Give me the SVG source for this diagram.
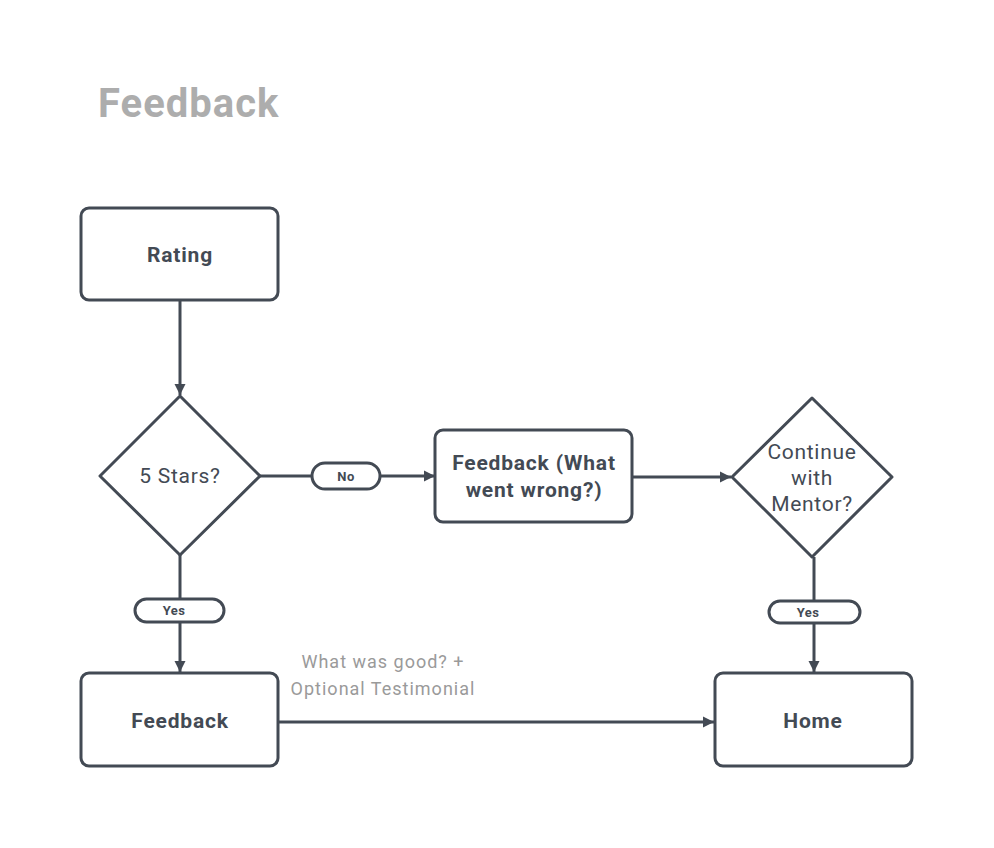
<svg xmlns="http://www.w3.org/2000/svg" width="994" height="848" viewBox="0 0 994 848">
<style>
.box{fill:#fff;stroke:#434a54;stroke-width:3}
.pill{fill:#fff;stroke:#434a54;stroke-width:3}
.ln{fill:none;stroke:#434a54;stroke-width:3}
.t{font-family:Roboto,"Liberation Sans",sans-serif;fill:#434a54;text-anchor:middle}
.b{font-weight:bold;font-size:21px;letter-spacing:0.8px}
.r{font-size:21px;letter-spacing:0.7px}
.s{font-size:13px;font-weight:bold;letter-spacing:0.4px}
.g{font-family:Roboto,"Liberation Sans",sans-serif;fill:#9a9a9a;font-size:18px;letter-spacing:1px;text-anchor:middle}
.title{font-family:Roboto,"Liberation Sans",sans-serif;fill:#adadad;font-size:40px;font-weight:bold;letter-spacing:1px}
</style>
<defs>
<marker id="ah" markerUnits="userSpaceOnUse" markerWidth="12" markerHeight="12" refX="11" refY="6" orient="auto">
<path d="M0,0.5 L11,6 L0,11.5 z" fill="#434a54"/>
</marker>
</defs>
<rect width="994" height="848" fill="#fff"/>
<text class="title" x="98" y="117">Feedback</text>
<g id="connectors">
<line class="ln" x1="180" y1="300" x2="180" y2="395" marker-end="url(#ah)"/>
<line class="ln" x1="260" y1="476" x2="435" y2="476" marker-end="url(#ah)"/>
<line class="ln" x1="633" y1="477" x2="731" y2="477" marker-end="url(#ah)"/>
<line class="ln" x1="180" y1="555" x2="180" y2="672" marker-end="url(#ah)"/>
<line class="ln" x1="814" y1="557" x2="814" y2="672" marker-end="url(#ah)"/>
<line class="ln" x1="279" y1="722" x2="714" y2="722" marker-end="url(#ah)"/>
<g id="label-no">
<rect class="pill" x="312" y="463" width="68" height="26" rx="13"/>
<text class="t s" x="346" y="481" font-weight="500">No</text>
</g>
<g id="label-yes1">
<rect class="pill" x="135" y="599" width="89" height="23" rx="11.5"/>
<text class="t s" x="174" y="615">Yes</text>
</g>
<g id="label-yes2">
<rect class="pill" x="769" y="601" width="91" height="22" rx="11"/>
<text class="t s" x="808" y="617">Yes</text>
</g>
<g id="label-good">
<text class="g" x="383" y="668">What was good? +</text>
<text class="g" x="383" y="695">Optional Testimonial</text>
</g>
</g>
<g id="rating">
<rect class="box" x="81" y="208" width="197" height="92" rx="8"/>
<text class="t b" x="180" y="262">Rating</text>
</g>
<g id="five-stars">
<path class="box" stroke-linejoin="round" d="M180,396 L260,476 L180,555 L100,476 Z"/>
<text class="t r" x="180" y="483">5 Stars?</text>
</g>
<g id="feedback-wrong">
<rect class="box" x="435" y="430" width="197" height="92" rx="8"/>
<text class="t b" x="534" y="470">Feedback (What</text>
<text class="t b" x="534" y="497">went wrong?)</text>
</g>
<g id="continue">
<path class="box" stroke-linejoin="round" d="M812,398 L892,477 L812,557 L732,477 Z"/>
<text class="t r" x="812" y="459">Continue</text>
<text class="t r" x="812" y="485">with</text>
<text class="t r" x="812" y="511">Mentor?</text>
</g>
<g id="feedback">
<rect class="box" x="81" y="673" width="197" height="93" rx="8"/>
<text class="t b" x="180" y="728">Feedback</text>
</g>
<g id="home">
<rect class="box" x="715" y="673" width="197" height="93" rx="8"/>
<text class="t b" x="813" y="728">Home</text>
</g>
</svg>
